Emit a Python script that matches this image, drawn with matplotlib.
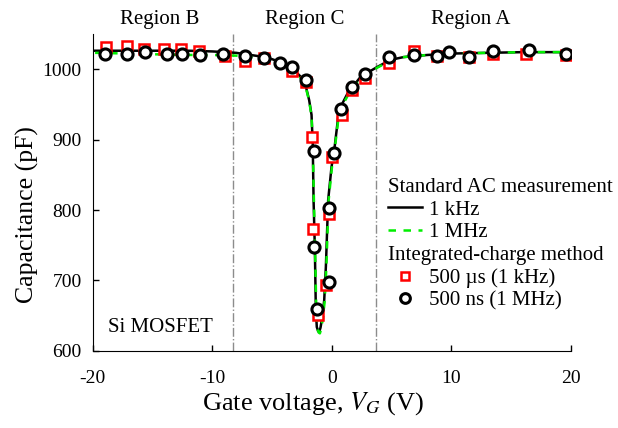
import matplotlib
matplotlib.use("Agg")
import matplotlib.pyplot as plt
from matplotlib.lines import Line2D

plt.rcParams['font.family'] = ['Liberation Serif', 'DejaVu Serif']
plt.rcParams['mathtext.fontset'] = 'stix'
plt.rcParams['axes.unicode_minus'] = False

v_1k = [-19.8, -17, -15, -12, -10, -8, -6, -5, -4, -3.3, -2.6, -2.2, -1.9, -1.7,
        -1.6, -1.53, -1.42, -1.34, -1.26, -1.15, -1.06, -0.95, -0.8, -0.64, -0.5,
        -0.31, -0.03, 0.2, 0.6, 1.3, 2.4, 3.8, 4.9, 6, 8, 10, 13, 16, 19.6]
c_1k = [1026, 1026, 1026, 1026, 1025, 1023, 1018, 1014, 1008, 1001, 989, 977, 956, 935,
        894, 814, 743, 658, 634, 628, 627, 633, 648, 672, 720,
        814, 861, 885, 942, 965, 989, 1003, 1013, 1017, 1020, 1022, 1023, 1024, 1024]

v_1M = [-19.8, -17, -15, -12, -10, -8, -6, -5, -4, -3.3, -2.6, -2.2, -1.9, -1.7,
        -1.6, -1.5, -1.4, -1.3, -1.22, -1.1, -1.0, -0.9, -0.75, -0.6, -0.46,
        -0.28, 0.0, 0.22, 0.62, 1.35, 2.45, 3.8, 4.9, 6, 8, 10, 13, 16, 19.6]
c_1M = [1023, 1022, 1021, 1020, 1020, 1019, 1016, 1012, 1006, 999, 987, 975, 955, 933,
        893, 812, 741, 656, 633, 626, 625, 631, 646, 671, 719,
        812, 860, 884, 940, 963, 988, 1002, 1012, 1017, 1020, 1022, 1023, 1024, 1024]

# integrated-charge method points
v_us = [-18.9, -17.1, -15.7, -14.0, -12.6, -11.1, -8.9, -7.3, -5.7, -3.3, -2.2,
        -1.65, -1.56, -1.2, -0.5, -0.22, 0.0, 0.84, 1.65, 2.8, 4.8, 6.9, 8.8, 11.5,
        13.5, 16.2, 19.6]
c_us = [1031, 1032, 1028, 1028, 1028, 1026, 1018, 1012, 1016, 997, 982,
        904, 773, 651, 694, 794, 875, 935, 970, 988, 1008, 1025, 1018, 1017,
        1021, 1022, 1020]

v_ns = [-19.0, -17.1, -15.6, -13.8, -12.5, -11.0, -9.1, -7.3, -5.7, -4.3, -3.3,
        -2.2, -1.53, -1.48, -1.26, -0.2, -0.22, 0.14, 0.8, 1.7, 2.75, 4.8, 6.9, 8.8,
        9.8, 11.5, 13.5, 16.5, 19.6]
c_ns = [1021, 1022, 1024, 1022, 1021, 1020, 1021, 1018, 1015, 1008, 1003,
        985, 884, 748, 660, 698, 803, 881, 943, 975, 993, 1017, 1020, 1018,
        1024, 1017, 1025, 1027, 1022]

region_bounds = [-8.3, 3.65]
region_names = ['Region B', 'Region C', 'Region A']
region_centers = [-14.4, -2.3, 11.6]

fig = plt.figure(figsize=(6.18, 4.28), dpi=100)
ax = fig.add_axes([0.150, 0.180, 0.774, 0.741])

for xb in region_bounds:
    ax.axvline(xb, color='#8c8c8c', lw=1.0, ls='-.', zorder=1)

ax.plot(v_1k, c_1k, color='black', lw=1.8, zorder=2)
ax.plot(v_1M, c_1M, color='#00ee00', lw=1.8, ls=(0, (3, 3)), zorder=3)
ax.plot(v_us, c_us, ls='none', marker='s', ms=7, mfc='white', mec='#ff0000',
        mew=1.8, zorder=4)
ax.plot(v_ns, c_ns, ls='none', marker='o', ms=8, mfc='white', mec='black',
        mew=2.2, zorder=5)

for name, xc in zip(region_names, region_centers):
    ax.text(xc, 1.045, name, transform=ax.get_xaxis_transform(), ha='center',
            va='center', fontsize=15)

ax.text(-18.7, 633, 'Si MOSFET', fontsize=15, va='center', ha='left')

ax.set_xlim(-20, 20)
ax.set_ylim(600, 1050)
ax.set_xticks([-20, -10, 0, 10, 20])
ax.set_yticks([600, 700, 800, 900, 1000])
ax.tick_params(direction='in', length=4, width=1, labelsize=14)
ax.tick_params(axis='x', pad=14)
ax.tick_params(axis='y', pad=8)
ax.spines['top'].set_visible(False)
ax.spines['right'].set_visible(False)
ax.set_xlabel('Gate voltage, $V_G$ (V)', fontsize=19)
ax.set_ylabel('Capacitance (pF)', fontsize=18.5)
ax.xaxis.set_label_coords(0.46, -0.123)
ax.yaxis.set_label_coords(-0.112, 0.43)

blank = Line2D([], [], ls='none')
handles = [blank,
           Line2D([], [], color='black', lw=1.8),
           Line2D([], [], color='#00ee00', lw=1.8, ls=(0, (3, 3))),
           blank,
           Line2D([], [], ls='none', marker='s', ms=6, mfc='white', mec='#ff0000', mew=1.8),
           Line2D([], [], ls='none', marker='o', ms=7, mfc='white', mec='black', mew=2.2)]
labels = ['Standard AC measurement', '1 kHz', '1 MHz', 'Integrated-charge method',
          '500 \u00b5s (1 kHz)', '500 ns (1 MHz)']
leg = ax.legend(handles, labels, loc='upper left', bbox_to_anchor=(0.617, 0.547),
                frameon=False, fontsize=15, handlelength=1.65, handletextpad=0.35,
                labelspacing=0.15, borderpad=0, borderaxespad=0)
# header rows: no handle, text flush left
rows = leg._legend_handle_box.get_children()[0].get_children()
for i in (0, 3):
    rows[i].sep = 0
    rows[i].get_children()[0].width = 0

fig.savefig('out.png', dpi=100)
